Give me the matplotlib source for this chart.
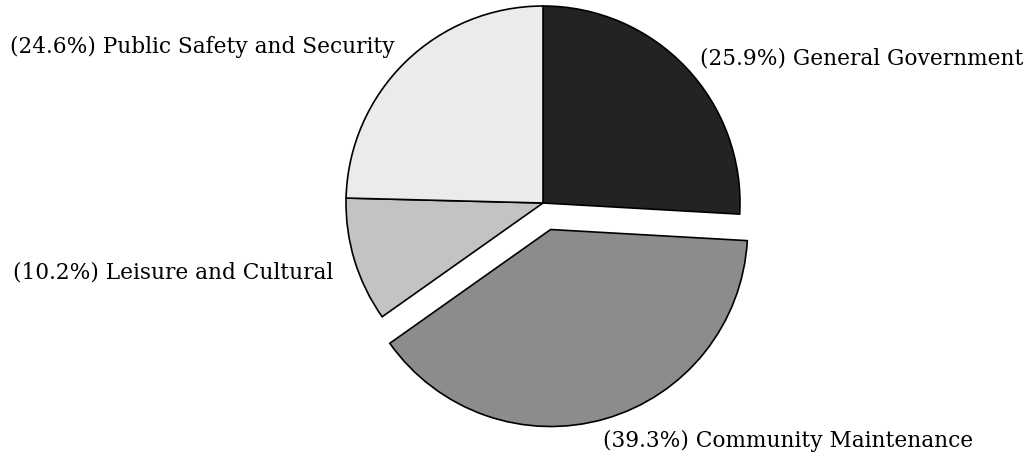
import matplotlib
matplotlib.use("Agg")
import matplotlib.pyplot as plt

# Expenditure shares by function
categories = ["General Government", "Community Maintenance", "Leisure and Cultural", "Public Safety and Security"]
shares = [25.9, 39.3, 10.2, 24.6]
explode = [0, 0.14, 0, 0]
colors = ["#232323", "#8c8c8c", "#c3c3c3", "#ebebeb"]

W, H = 1030, 456
fig = plt.figure(figsize=(W / 100, H / 100), dpi=100)
ax = fig.add_axes([0, 0, 1, 1])

# pie of unit radius, scaled so one unit is ~197 px
scale = 197.0
cx, cy = 543, 252
ax.pie(shares, explode=explode, colors=colors, startangle=90, counterclock=False,
       wedgeprops=dict(edgecolor="black", linewidth=1.2))
ax.set_xlim(-cx / scale, (W - cx) / scale)
ax.set_ylim(-cy / scale, (H - cy) / scale)
ax.set_aspect("equal")
ax.axis("off")

font = dict(family="DejaVu Serif", fontsize=15.6, va="center")
labels = [f"({s}%) {c}" for s, c in zip(shares, categories)]
fig.text(700 / W, 1 - 59 / H, labels[0], ha="left", **font)
fig.text(973 / W, 1 - 441 / H, labels[1], ha="right", **font)
fig.text(333 / W, 1 - 273 / H, labels[2], ha="right", **font)
fig.text(395 / W, 1 - 47 / H, labels[3], ha="right", **font)

fig.savefig("out.png", dpi=100)
